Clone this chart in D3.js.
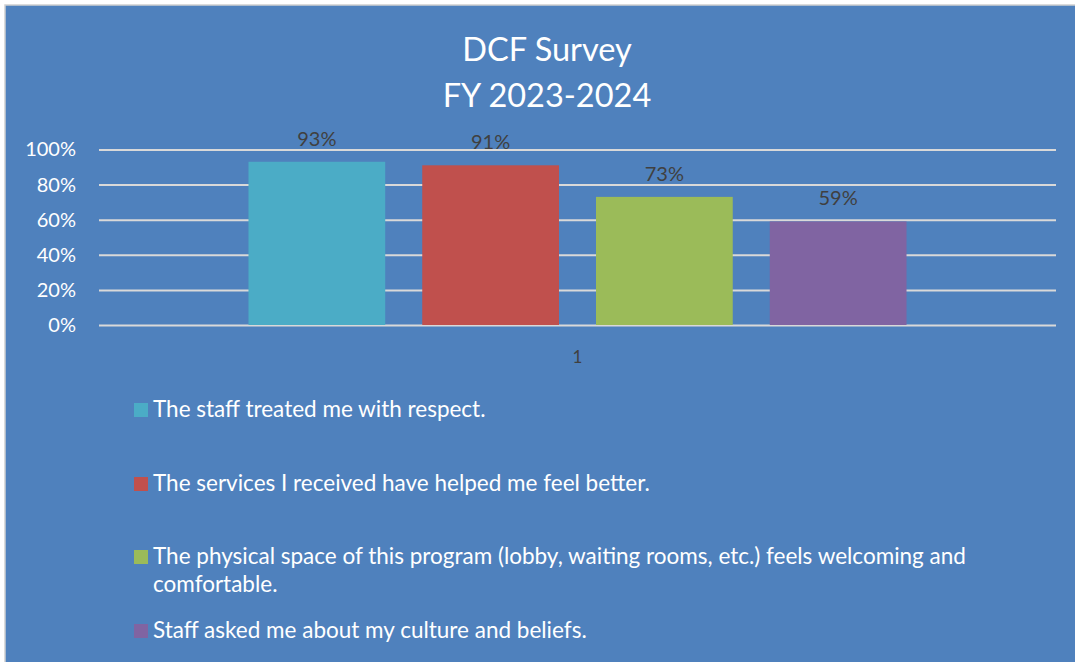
<!DOCTYPE html>
<html>
<head>
<meta charset="utf-8">
<script src="https://cdn.jsdelivr.net/npm/d3@7"></script>
<style>
	html, body { margin: 0; padding: 0; background: #ffffff; }
	svg { display: block; }
	text { font-family: Lato, "Open Sans", sans-serif; }
</style>
</head>
<body>
<svg id="chart"></svg>
<script>
const titleLines = ["DCF Survey", "FY 2023-2024"];
const categories = ["1"];
const seriesNames = [
	"The staff treated me with respect.",
	"The services I received have helped me feel better.",
	"The physical space of this program (lobby, waiting rooms, etc.) feels welcoming and comfortable.",
	"Staff asked me about my culture and beliefs."
];
const seriesValues = [0.93, 0.91, 0.73, 0.59];
const seriesColors = ["#4BACC6", "#C0504D", "#9BBB59", "#8064A2"];
const yTicks = [0, 0.2, 0.4, 0.6, 0.8, 1.0];

const width = 1075;
const height = 662;
const plot = { left: 99, right: 1056, top: 149.5, bottom: 325 };

const svg = d3.select("#chart")
	.attr("width", width)
	.attr("height", height);

// panel
svg.append("rect")
	.attr("x", 5).attr("y", 5)
	.attr("width", width).attr("height", height)
	.attr("fill", "#4F81BD")
	.attr("stroke", "#D0D0D0")
	.attr("stroke-width", 1.5);

// title
svg.append("g")
	.selectAll("text")
	.data(titleLines)
	.enter()
	.append("text")
	.attr("x", 547)
	.attr("y", (d, i) => 61 + i * 46)
	.attr("text-anchor", "middle")
	.attr("fill", "#ffffff")
	.attr("font-size", 32.5)
	.text((d) => d);

const y = d3.scaleLinear()
	.domain([0, 1])
	.range([plot.bottom, plot.top]);

const x0 = d3.scaleBand()
	.domain(categories)
	.range([plot.left, plot.right]);

// bars group occupies the middle of the category band
const groupWidth = x0.bandwidth() * 0.6876;
const x1 = d3.scaleBand()
	.domain(seriesNames)
	.paddingInner(0.213)
	.range([
		x0(categories[0]) + (x0.bandwidth() - groupWidth) / 2,
		x0(categories[0]) + (x0.bandwidth() + groupWidth) / 2
	]);

// gridlines and y axis
const yAxis = d3.axisLeft(y)
	.tickValues(yTicks)
	.tickFormat(d3.format(".0%"))
	.tickSize(-(plot.right - plot.left))
	.tickPadding(23);

const gAxis = svg.append("g")
	.attr("transform", `translate(${plot.left},0)`)
	.call(yAxis);

gAxis.select(".domain").remove();
gAxis.selectAll(".tick line")
	.attr("stroke", "#D9D9D9")
	.attr("stroke-width", 2);
gAxis.selectAll(".tick text")
	.attr("fill", "#ffffff")
	.attr("font-size", 20)
	.attr("font-family", "Lato, sans-serif");

// bars
const bars = svg.append("g");

bars.selectAll("rect")
	.data(seriesValues)
	.enter()
	.append("rect")
	.attr("x", (d, i) => x1(seriesNames[i]))
	.attr("y", (d) => y(d))
	.attr("width", x1.bandwidth())
	.attr("height", (d) => y(0) - y(d))
	.attr("fill", (d, i) => seriesColors[i]);

bars.selectAll("text")
	.data(seriesValues)
	.enter()
	.append("text")
	.attr("x", (d, i) => x1(seriesNames[i]) + x1.bandwidth() / 2)
	.attr("y", (d) => y(d) - 16)
	.attr("text-anchor", "middle")
	.attr("fill", "#404040")
	.attr("font-size", 20)
	.text(d3.format(".0%"));

// category label
svg.append("text")
	.attr("x", x0(categories[0]) + x0.bandwidth() / 2)
	.attr("y", 363)
	.attr("text-anchor", "middle")
	.attr("fill", "#404040")
	.attr("font-size", 17)
	.text(categories[0]);

// legend
const legendRows = [417, 491, 564, 638];
const legendMaxWidth = 830;
const legend = svg.append("g");

seriesNames.forEach((name, i) => {
	legend.append("rect")
		.attr("x", 134)
		.attr("y", legendRows[i] - 14)
		.attr("width", 14)
		.attr("height", 14)
		.attr("fill", seriesColors[i]);

	const text = legend.append("text")
		.attr("x", 153)
		.attr("y", legendRows[i])
		.attr("fill", "#ffffff")
		.attr("font-size", 22.5);

	const words = name.split(" ");
	let line = [];
	let tspan = text.append("tspan").attr("x", 153).attr("dy", 0);
	for (const word of words) {
		line.push(word);
		tspan.text(line.join(" "));
		if (tspan.node().getComputedTextLength() > legendMaxWidth && line.length > 1) {
			line.pop();
			tspan.text(line.join(" "));
			line = [word];
			tspan = text.append("tspan").attr("x", 153).attr("dy", 28).text(word);
		}
	}
});
</script>
</body>
</html>
